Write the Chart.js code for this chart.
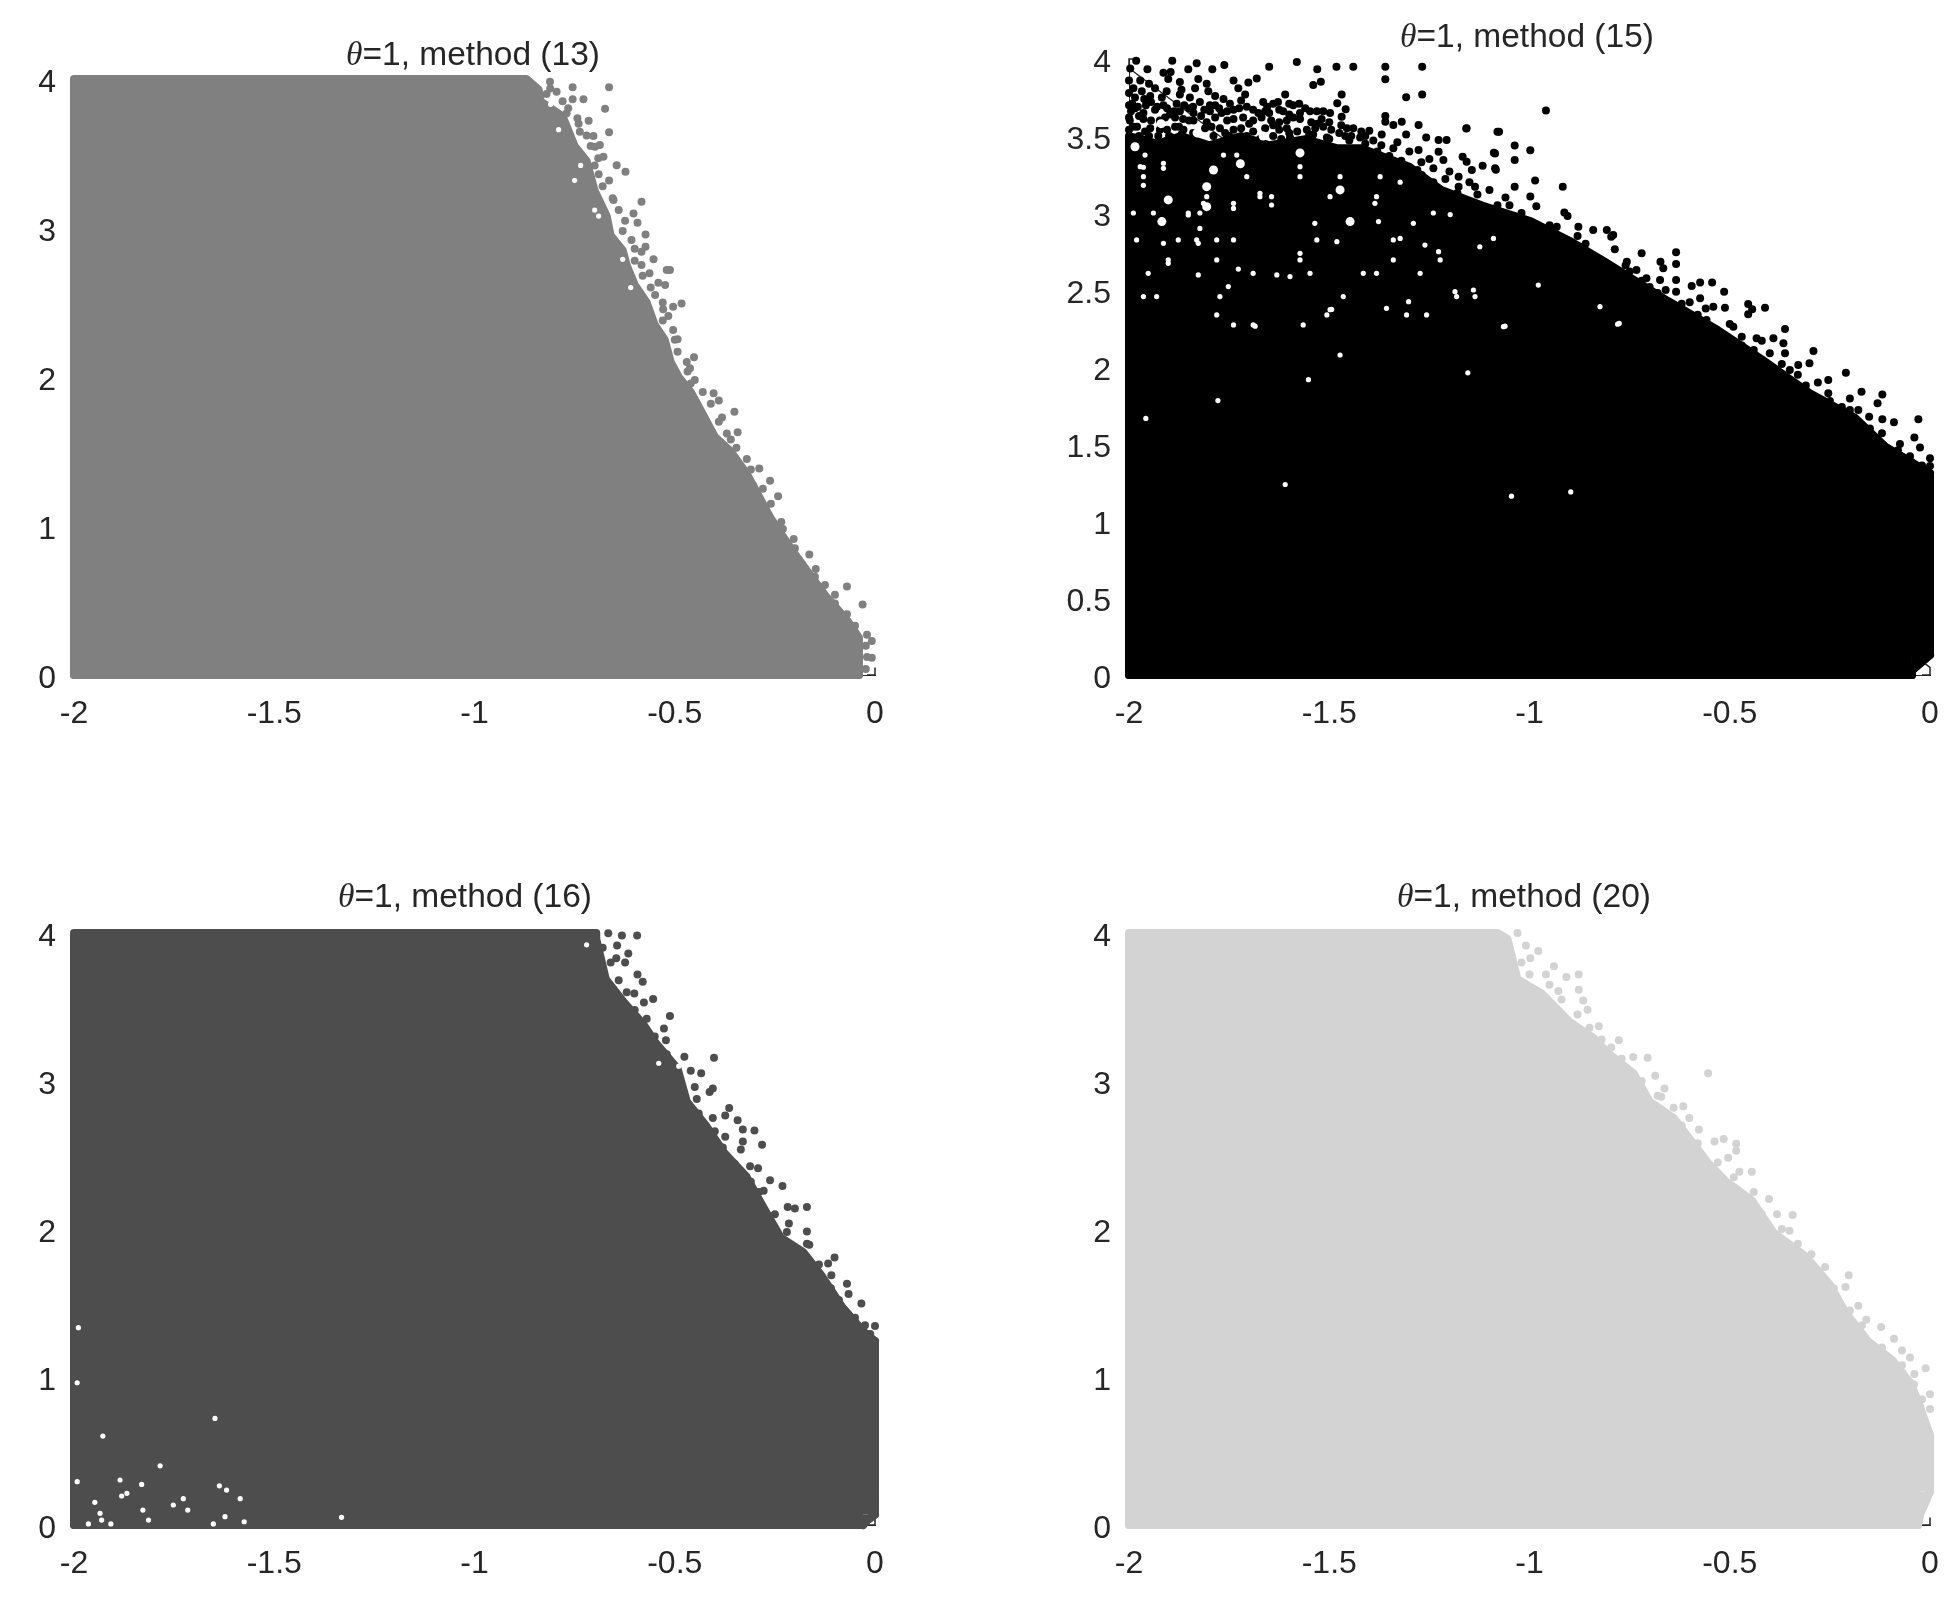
<!DOCTYPE html>
<html><head><meta charset="utf-8">
<script src="https://cdn.jsdelivr.net/npm/chart.js@4"></script>
<style>html,body{margin:0;background:#fff}#w{position:relative;width:1960px;height:1600px;overflow:hidden}canvas{position:absolute}</style>
</head><body><div id="w"></div>
<script>
const xTicks=[-2,-1.5,-1,-0.5,0];
const yTicksWhole=[0,1,2,3,4];
const yTicksHalf=[0,0.5,1,1.5,2,2.5,3,3.5,4];
const titles=["(13)","(15)","(16)","(20)"];

const edge13=[[-2,4],[-0.87,4],[-0.84,3.93],[-0.835,3.85],[-0.78,3.75],[-0.75,3.55],[-0.72,3.45],[-0.70,3.25],[-0.67,3.08],[-0.66,2.95],[-0.63,2.85],[-0.62,2.75],[-0.60,2.62],[-0.57,2.5],[-0.55,2.35],[-0.525,2.25],[-0.51,2.1],[-0.49,2.0],[-0.46,1.9],[-0.43,1.75],[-0.40,1.6],[-0.36,1.5],[-0.32,1.35],[-0.29,1.2],[-0.26,1.05],[-0.21,0.85],[-0.17,0.7],[-0.12,0.52],[-0.07,0.37],[-0.04,0.25],[-0.04,0]];
const tail13=[];
const dots13=[[-0.8115,3.982],[-0.795,3.915],[-0.811,3.937],[-0.755,3.944],[-0.664,3.944],[-0.674,3.801],[-0.664,3.642],[-0.755,3.864],[-0.728,3.864],[-0.766,3.803],[-0.743,3.736],[-0.715,3.72],[-0.737,3.646],[-0.703,3.617],[-0.687,3.557],[-0.699,3.546],[-0.678,3.479],[-0.691,3.468],[-0.645,3.421],[-0.623,3.378],[-0.664,3.318],[-0.583,3.177],[-0.653,3.188],[-0.603,3.098],[-0.624,3.049],[-0.593,3.036],[-0.573,2.957],[-0.608,2.919],[-0.573,2.875],[-0.583,2.841],[-0.553,2.79],[-0.583,2.752],[-0.563,2.696],[-0.52,2.718],[-0.512,2.718],[-0.541,2.633],[-0.524,2.617],[-0.549,2.55],[-0.483,2.494],[-0.504,2.472],[-0.529,2.454],[-0.516,2.409],[-0.504,2.315],[-0.493,2.253],[-0.493,2.17],[-0.452,2.132],[-0.462,2.058],[-0.468,2.037],[-0.46,1.956],[-0.403,1.891],[-0.39,1.842],[-0.351,1.767],[-0.382,1.728],[-0.343,1.63],[-0.346,1.526],[-0.289,1.386],[-0.262,1.304],[-0.242,1.2],[-0.304,1.272],[-0.273,1.125],[-0.234,1.027],[-0.203,0.913],[-0.164,0.809],[-0.203,0.783],[-0.148,0.711],[-0.125,0.604],[-0.07,0.594],[-0.1,0.538],[-0.031,0.473],[-0.07,0.408],[-0.008,0.229],[-0.023,0.196],[-0.008,0.115],[-0.023,0.04],
[-0.82,3.9],[-0.78,3.85],[-0.77,3.77],[-0.74,3.7],[-0.72,3.62],[-0.71,3.55],[-0.70,3.42],[-0.69,3.36],[-0.68,3.28],[-0.655,3.2],[-0.64,3.12],[-0.63,2.98],[-0.60,2.86],[-0.60,2.78],[-0.58,2.68],[-0.56,2.6],[-0.53,2.5],[-0.53,2.38],[-0.50,2.25],[-0.47,2.1],[-0.45,1.98],[-0.43,1.9],[-0.41,1.82],[-0.39,1.7],[-0.37,1.62],[-0.36,1.58],[-0.32,1.45],[-0.31,1.38],[-0.28,1.25],[-0.26,1.15],[-0.23,0.98],[-0.2,0.85],[-0.15,0.66],[-0.10,0.48],[-0.05,0.33],[-0.02,0.27],[-0.02,0.12]];
const specks13=[[-0.81,3.83],[-0.79,3.66],[-0.735,3.42],[-0.75,3.32],[-0.70,3.12],[-0.69,3.08],[-0.63,2.79],[-0.61,2.6]];

const edge15=[[-2,3.5],[-1.93,3.45],[-1.87,3.5],[-1.8,3.44],[-1.72,3.5],[-1.65,3.44],[-1.56,3.48],[-1.48,3.42],[-1.42,3.42],[-1.3,3.3],[-1.22,3.15],[-1.12,3.05],[-1.0,2.95],[-0.9,2.82],[-0.81,2.68],[-0.655,2.43],[-0.53,2.24],[-0.42,2.05],[-0.3,1.83],[-0.187,1.67],[-0.11,1.48],[-0.045,1.38]];
const tail15=[[0,1.31],[0,0.13],[-0.045,0.03],[-0.045,0]];
const dots15=[[-1.982,3.989],[-1.997,3.939],[-1.954,3.933],[-1.914,3.911],[-1.896,3.916],[-1.892,3.989],[-1.852,3.933],[-1.831,3.972],[-1.792,3.933],[-1.762,3.961],[-1.65,3.95],[-1.581,3.98],[-1.53,3.933],[-1.482,3.95],[-1.44,3.95],[-1.36,3.95],[-1.36,3.868],[-1.268,3.95],[-1.268,3.77],[-1.308,3.751],[-1.54,3.831],[-1.521,3.853],[-1.681,3.874],[-1.702,3.848],[-1.469,3.77],[-1.48,3.712],[-1.459,3.673],[-1.469,3.625],[-1.36,3.63],[-1.36,3.593],[-1.34,3.571],[-1.319,3.593],[-1.157,3.55],[-1.08,3.528],[-1.4,3.534],[-1.369,3.509],[-1.308,3.509],[-1.277,3.571],[-1.258,3.491],[-1.227,3.474],[-1.207,3.474],[-1.277,3.409],[-1.227,3.398],[-1.086,3.387],[-1.167,3.366],[-1.117,3.307],[-1.157,3.333],[-1.086,3.29],[-1.144,3.279],[-1.24,3.29],[-1.215,3.344],[-1.136,3.171],[-1.177,3.236],[-1.177,3.171],[-1.269,3.247],
[-2,3.86],[-2,3.78],[-2,3.7],[-2,3.62],[-2,3.54],
[-1.972,3.86],[-1.95,3.84],[-1.902,3.87],[-1.873,3.85],[-1.827,3.87],[-1.806,3.84],[-1.739,3.86],
[-1.989,3.81],[-1.968,3.79],[-1.935,3.81],[-1.906,3.79],[-1.869,3.8],[-1.835,3.81],[-1.802,3.79],[-1.727,3.81],[-1.71,3.77],
[-1.985,3.75],[-1.962,3.74],[-1.947,3.76],[-1.918,3.75],[-1.873,3.77],[-1.848,3.75],[-1.785,3.76],[-1.764,3.74],[-1.72,3.73],[-1.61,3.77],[-1.6,3.71],
[-1.992,3.71],[-1.978,3.69],[-1.945,3.72],[-1.914,3.7],[-1.881,3.71],[-1.823,3.72],[-1.798,3.7],[-1.748,3.71],[-1.706,3.69],[-1.665,3.72],[-1.64,3.71],[-1.655,3.69],[-1.628,3.72],[-1.59,3.7],[-1.575,3.71],
[-1.995,3.66],[-1.964,3.65],[-1.935,3.67],[-1.898,3.64],[-1.873,3.66],[-1.85,3.68],[-1.839,3.65],[-1.798,3.66],[-1.769,3.65],[-1.739,3.67],[-1.677,3.65],[-1.615,3.66],[-1.66,3.66],[-1.573,3.65],[-1.548,3.66],[-1.531,3.66],[-1.498,3.65],
[-1.998,3.6],[-1.964,3.61],[-1.923,3.6],[-1.885,3.62],[-1.839,3.6],[-1.82,3.63],[-1.806,3.59],[-1.739,3.61],[-1.715,3.62],[-1.69,3.6],[-1.669,3.62],[-1.606,3.6],[-1.573,3.61],[-1.545,3.59],[-1.519,3.61],[-1.5,3.59],
[-1.985,3.68],[-1.958,3.7],[-1.93,3.69],[-1.905,3.68],[-1.888,3.66],[-1.862,3.7],[-1.84,3.69],[-1.812,3.67],[-1.785,3.7],[-1.775,3.68],[-1.755,3.66],[-1.725,3.68],[-1.69,3.67],[-1.65,3.65],[-1.625,3.67],[-1.6,3.64],[-1.56,3.68],[-1.515,3.66],[-1.975,3.63],[-1.945,3.6],[-1.91,3.62],[-1.865,3.61],[-1.85,3.6],[-1.785,3.62],[-1.755,3.6],[-1.7,3.58],[-1.645,3.6],[-1.625,3.59],[-1.59,3.62],[-1.53,3.58],[-1.47,3.57],[-1.98,3.56],[-1.96,3.53],[-1.905,3.54],[-1.875,3.56],[-1.81,3.55],[-1.76,3.52],[-1.72,3.55],[-1.69,3.53],[-1.625,3.54],[-1.58,3.53],[-1.535,3.55],[-1.495,3.54],[-1.475,3.52],[-1.445,3.5],[-1.41,3.5],
[-1.989,3.56],[-1.947,3.55],[-1.923,3.54],[-1.885,3.56],[-1.864,3.54],[-1.794,3.56],[-1.773,3.55],[-1.739,3.54],[-1.66,3.55],[-1.64,3.57],[-1.606,3.55],[-1.556,3.54],[-1.515,3.56],[-1.456,3.55],[-1.44,3.55],[-1.42,3.53],
[-1.975,3.5],[-1.968,3.48],[-1.927,3.5],[-1.893,3.49],[-1.869,3.51],[-1.789,3.5],[-1.756,3.49],[-1.706,3.5],[-1.673,3.48],[-1.64,3.5],[-1.598,3.49],[-1.54,3.51],[-1.506,3.49],[-1.46,3.5],[-1.423,3.49],[-1.39,3.47],
[-1.33,3.46],[-1.3,3.4],[-1.25,3.35],[-1.2,3.27],[-1.15,3.2],[-1.1,3.15],[-1.05,3.05],
[-1.38,3.4],[-1.35,3.37],[-1.32,3.34],[-1.28,3.28],[-1.24,3.2],[-1.18,3.13],[-1.08,3.05],[-1.02,3.0],[-1.45,3.47],[-1.41,3.45],[-1.37,3.44],[-1.34,3.42],[-1.6,3.52],[-1.55,3.51],[-1.75,3.5],[-1.84,3.52],[-1.95,3.5],[-1.9,3.5],[-1.5,3.48],[-1.62,3.48],[-1.27,3.33],[-1.21,3.22],[-1.13,3.12],[-1.06,3.1],
[-0.959,3.666],[-1.158,3.549],[-1.076,3.527],[-1.037,3.438],[-0.998,3.407],[-1.089,3.391],[-1.037,3.344],[-1.084,3.281],[-0.986,3.211],[-0.917,3.17],[-1.037,3.17],[-0.998,3.107],[-0.983,3.044],[-0.913,3.003],[-0.905,2.981],[-0.796,2.845],
[-0.932,2.911],[-0.878,2.911],[-0.841,2.89],[-0.807,2.89],[-0.791,2.857],[-0.965,2.9],
[-0.634,2.745],[-0.634,2.669],[-0.634,2.565],[-0.634,2.489],[-0.72,2.738],[-0.673,2.684],[-0.666,2.641],[-0.787,2.764],[-0.757,2.684],[-0.733,2.63],[-0.708,2.576],[-0.674,2.565],[-0.574,2.548],[-0.544,2.548],[-0.595,2.526],[-0.514,2.489],[-0.454,2.409],[-0.412,2.385],[-0.454,2.342],[-0.444,2.375],[-0.512,2.385],[-0.362,2.247],[-0.433,2.186],[-0.391,2.186],[-0.366,2.154],[-0.362,2.089],[-0.291,2.104],[-0.301,2.024],[-0.329,2.013],[-0.21,1.963],[-0.254,1.916],[-0.254,1.829],[-0.171,1.84],[-0.2,1.796],[-0.119,1.822],[-0.131,1.764],[-0.179,1.721],[-0.152,1.677],[-0.119,1.66],[-0.09,1.641],[-0.029,1.66],[-0.039,1.543],[-0.025,1.478],[-0.075,1.5],[0,1.407],[0,1.357],[-0.491,2.262],[-0.533,2.208],[-0.47,2.197],[-0.574,2.446],[-0.541,2.392],[-0.558,2.305],
[-0.95,2.92],[-0.86,2.8],[-0.76,2.66],[-0.7,2.52],[-0.66,2.5],[-0.6,2.42],[-0.56,2.38],[-0.5,2.28],[-0.42,2.17],[-0.4,2.09],[-0.37,2.02],[-0.33,1.95],[-0.28,1.9],[-0.25,1.78],[-0.2,1.72],[-0.15,1.6],[-0.12,1.57],[-0.08,1.46],[-0.05,1.42],[-0.02,1.36],[-0.88,2.85],
[-0.75,2.62],[-0.72,2.56],[-0.68,2.48],[-0.62,2.41],[-0.58,2.34],[-0.47,2.14],[-0.44,2.11],[-0.35,1.98],[-0.31,1.88],[-0.22,1.74]];
const specks15=[[-1.964,3.297],[-1.964,3.18],[-1.914,3.323],[-1.852,2.987],[-1.823,2.9],[-1.827,2.598],[-1.727,2.636],[-1.902,2.673],[-1.69,2.273],[-1.781,2.338],[-1.773,2.457],[-1.752,2.522],[-1.827,2.803],[-1.914,2.803],[-1.531,2.825],[-1.481,2.814],[-1.573,2.738],[-1.631,2.598],[-1.598,2.587],[-1.494,2.374],[-1.473,2.078],[-1.302,2.424],[-1.186,2.489],[-1.14,2.5],[-1.357,2.381],[-1.261,2.792],[-1.227,2.749],[-1.323,2.835],[-1.29,2.933],[-1.377,2.944],[-1.386,3.063],[-1.644,3.052],[-1.739,3.03],[-1.673,3.128],[-1.124,2.781],[-1.09,2.835],[-1.24,3.0],[-1.198,2.99],[-1.536,2.933],[-1.685,2.265],[-1.498,2.372],[-0.897,1.189],[-1.045,1.161],[-1.61,1.237],[-1.552,1.918],[-1.778,1.782],[-1.958,1.666],[-1.154,1.962],[-0.78,2.278],[-1.061,2.265],[-0.776,2.283],[-0.978,2.532],[-1.065,2.262],[-0.824,2.392],
[-1.96,3.376],[-1.764,3.376],[-1.731,3.376],[-1.972,3.301],[-1.914,3.29],[-1.573,3.301],[-1.964,3.236],[-1.706,3.236],[-1.573,3.236],[-1.473,3.236],[-1.373,3.236],[-1.323,3.2],[-1.806,3.106],[-1.673,3.106],[-1.644,3.106],[-1.498,3.106],[-1.382,3.106],[-1.739,3.063],[-1.814,3.063],[-1.989,3.0],[-1.939,3.0],[-1.852,3.0],[-1.823,3.0],[-1.981,2.825],[-1.877,2.825],[-1.831,2.825],[-1.781,2.825],[-1.739,2.825],[-1.34,2.825],[-1.902,2.695],[-1.781,2.695],[-1.573,2.695],[-1.34,2.695],[-1.223,2.695],[-1.952,2.608],[-1.69,2.608],[-1.548,2.608],[-1.415,2.608],[-1.382,2.608],[-1.273,2.608],[-1.964,2.457],[-1.931,2.457],[-1.465,2.457],[-1.182,2.457],[-1.136,2.457],[-1.506,2.338],[-1.307,2.338],[-1.257,2.338],[-1.739,2.273],[-1.565,2.273]];
const holes15=[[-1.473,3.15],[-1.902,3.085],[-1.448,2.944],[-1.789,3.279],[-1.918,2.944],[-1.806,3.171],[-1.83,3.52],[-1.92,3.58],[-1.665,3.5],[-1.573,3.39],[-1.722,3.32],[-1.985,3.43],[-1.806,3.041]];

const edge16=[[-2,4],[-0.696,4],[-0.696,3.96],[-0.672,3.687],[-0.626,3.529],[-0.579,3.386],[-0.548,3.259],[-0.493,3.084],[-0.47,2.862],[-0.423,2.703],[-0.376,2.513],[-0.321,2.354],[-0.282,2.163],[-0.235,1.941],[-0.18,1.846],[-0.134,1.687],[-0.08,1.465],[-0.03,1.31]];
const tail16=[[0,1.243],[0,0.07],[-0.02,0.03],[-0.03,0]];
const dots16=[[-0.666,3.999],[-0.632,3.983],[-0.594,3.983],[-0.71,4],[-0.644,3.916],[-0.616,3.862],[-0.646,3.83],[-0.624,3.8],[-0.593,3.72],[-0.58,3.67],[-0.601,3.592],[-0.554,3.554],[-0.577,3.53],[-0.512,3.44],[-0.527,3.354],[-0.522,3.275],[-0.476,3.164],[-0.402,3.157],[-0.434,3.052],[-0.46,3.07],[-0.405,2.95],[-0.413,2.925],[-0.445,2.878],[-0.364,2.818],[-0.405,2.75],[-0.374,2.767],[-0.343,2.735],[-0.33,2.672],[-0.301,2.665],[-0.374,2.624],[-0.33,2.592],[-0.282,2.57],[-0.335,2.538],[-0.312,2.424],[-0.292,2.411],[-0.262,2.329],[-0.231,2.291],[-0.278,2.259],[-0.218,2.148],[-0.2,2.138],[-0.17,2.148],[-0.215,2.037],[-0.17,1.983],[-0.164,1.894],[-0.101,1.808],[-0.117,1.767],[-0.109,1.687],[-0.07,1.63],[-0.066,1.56],[-0.034,1.497],[0,1.344],[-0.012,1.29],[0,0.195],[0,0.106],
[-0.68,3.9],[-0.66,3.8],[-0.64,3.68],[-0.62,3.6],[-0.60,3.48],[-0.57,3.42],[-0.55,3.3],[-0.52,3.18],[-0.49,3.02],[-0.45,2.96],[-0.44,2.78],[-0.40,2.66],[-0.38,2.55],[-0.35,2.44],[-0.31,2.32],[-0.29,2.25],[-0.25,2.1],[-0.22,1.98],[-0.17,1.9],[-0.14,1.76],[-0.11,1.6],[-0.09,1.52],[-0.05,1.4],[-0.025,1.35]];
const specks16=[[-1.964,0.007],[-1.652,0.007],[-1.908,0.007],[-1.948,0.153],[-1.881,0.196],[-1.868,0.214],[-1.885,0.304],[-1.989,1.333],[-1.992,0.961],[-1.648,0.72],[-1.785,0.4],[-1.637,0.265],[-1.752,0.135],[-1.814,0.033],[-1.931,0.033],[-1.623,0.056],[-1.575,0.022],[-1.716,0.101],[-1.828,0.101],[-1.935,0.079],[-1.585,0.178],[-1.831,0.274],[-1.928,0.601],[-1.992,0.293],[-1.332,0.052],[-1.727,0.178],[-1.619,0.236],[-0.72,3.92],[-0.62,3.7],[-0.54,3.12],[-0.49,3.1]];

const edge20=[[-2,4],[-1.08,4],[-1.055,3.96],[-1.03,3.687],[-0.97,3.592],[-0.90,3.4],[-0.84,3.29],[-0.80,3.179],[-0.74,3.052],[-0.70,2.862],[-0.64,2.75],[-0.60,2.608],[-0.555,2.449],[-0.51,2.322],[-0.445,2.195],[-0.39,1.973],[-0.31,1.814],[-0.25,1.624],[-0.21,1.433],[-0.155,1.243],[-0.095,1.116],[-0.049,0.96],[-0.025,0.8]];
const tail20=[[0,0.608],[0,0.227],[-0.025,0.07],[-0.03,0]];
const dots20=[[-1.03,4],[-1.009,3.916],[-0.978,3.878],[-0.998,3.83],[-0.939,3.776],[-0.877,3.719],[-0.908,3.703],[-0.959,3.719],[-0.877,3.617],[-0.866,3.544],[-0.928,3.608],[-0.855,3.481],[-0.827,3.37],[-0.777,3.275],[-0.796,3.227],[-0.705,3.157],[-0.741,3.163],[-0.554,3.052],[-0.686,3.036],[-0.663,2.95],[-0.671,2.894],[-0.616,2.83],[-0.601,2.75],[-0.577,2.672],[-0.515,2.608],[-0.484,2.576],[-0.538,2.592],[-0.484,2.529],[-0.504,2.481],[-0.445,2.386],[-0.476,2.386],[-0.402,2.202],[-0.343,2.094],[-0.382,2.1],[-0.351,1.989],[-0.296,1.83],[-0.262,1.744],[-0.203,1.687],[-0.211,1.608],[-0.179,1.481],[-0.122,1.338],[-0.159,1.386],[-0.09,1.259],[-0.07,1.179],[-0.05,1.132],[-0.011,1.059],[-0.039,1.021],[0,0.884],[0,0.783],
[-1.05,3.9],[-1.02,3.8],[-1.0,3.72],[-0.95,3.65],[-0.92,3.55],[-0.88,3.45],[-0.85,3.36],[-0.82,3.28],[-0.77,3.15],[-0.72,3.0],[-0.68,2.9],[-0.64,2.82],[-0.62,2.7],[-0.58,2.58],[-0.53,2.45],[-0.49,2.35],[-0.44,2.25],[-0.42,2.1],[-0.37,2.0],[-0.33,1.9],[-0.28,1.72],[-0.24,1.6],[-0.2,1.45],[-0.17,1.35],[-0.12,1.2],[-0.07,1.08],[-0.04,0.95],[-0.02,0.85]];
const specks20=[];
const noHoles=[];

const corner=[[-0.02,0],[0,0],[0,0.05]];
const corner15=[[-2,3.94],[-2,4],[-1.98,4]];

const FONT='"Liberation Sans", Arial, sans-serif';
const INK='#262626';
const toXY=a=>a.map(p=>({x:p[0],y:p[1]}));

const richTitle={id:'richTitle',afterDraw(c,_,o){
  const g=c.ctx;g.save();g.fillStyle=INK;g.textBaseline='middle';g.textAlign='left';
  const th='\u03b8',rest='=1, method '+o.tag;
  g.font='italic 33.5px "Liberation Serif", serif';const w1=g.measureText(th).width;
  g.font='33.5px '+FONT;const w2=g.measureText(rest).width;
  const x=o.cx-(w1+w2)/2;
  g.font='italic 33.5px "Liberation Serif", serif';g.fillText(th,x,o.cy);
  g.font='33.5px '+FONT;g.fillText(rest,x+w1,o.cy);g.restore();
}};

function panel(p){
  const cv=document.createElement('canvas');
  cv.width=980;cv.height=800;cv.style.left=p.left+'px';cv.style.top=p.top+'px';
  document.getElementById('w').appendChild(cv);
  const hasTail=p.tail.length>0;
  const end=hasTail?p.tail[p.tail.length-1][0]:p.edge[p.edge.length-1][0];
  const base=[[-2,0],[end,0]];
  const solid=[[-2,0]].concat(p.edge);
  const common={clip:false,pointRadius:0,showLine:true,borderWidth:8,borderColor:p.color,borderCapStyle:'round',borderJoinStyle:'round',tension:0};
  const ds=[
    {label:'axis',data:toXY(p.marks),showLine:true,clip:false,pointRadius:0,borderColor:INK,borderWidth:1.5,order:10},
    {label:'body',data:toXY(solid),fill:'origin',backgroundColor:p.color,order:9,...common},
    {label:'base',data:toXY(base),order:5,...common},
    {label:'points',data:toXY(p.dots),clip:false,pointRadius:4,pointBorderWidth:0,pointBackgroundColor:p.color,order:3},
    {label:'gaps',data:toXY(p.specks),clip:false,pointRadius:2.6,pointBorderWidth:0,pointBackgroundColor:'#fff',order:2},
    {label:'holes',data:toXY(p.holes),clip:false,pointRadius:4.5,pointBorderWidth:0,pointBackgroundColor:'#fff',order:1}
  ];
  if(hasTail){
    const n=p.edge.length;
    const topIdx=p.tail.findIndex(q=>q[0]===0);
    const capTop=[p.edge[n-2],p.edge[n-1]].concat(p.tail.slice(0,topIdx+1));
    const bottomOfCap=p.tail[topIdx+1][1];
    const wedge=p.tail.slice(topIdx+1).reverse();
    ds.push({label:'cap',data:toXY(capTop),fill:{value:bottomOfCap},backgroundColor:p.color,order:8,...common});
    ds.push({label:'wedge',data:toXY(wedge),fill:{value:bottomOfCap},backgroundColor:p.color,order:7,...common});
    ds.push({label:'tail',data:toXY(p.tail),order:6,...common});
  }
  new Chart(cv,{type:'scatter',plugins:[richTitle],data:{datasets:ds},options:{responsive:false,animation:false,events:[],
    layout:{padding:{left:0,top:p.ptop,right:980-p.pright,bottom:0}},
    plugins:{legend:{display:false},tooltip:{enabled:false},richTitle:{tag:p.tag,cx:p.cx,cy:p.cy}},
    scales:{
      x:{type:'linear',min:-2,max:0,afterBuildTicks:s=>{s.ticks=xTicks.map(v=>({value:v}))},
        afterFit:s=>{s.height=800-p.pbottom},
        grid:{display:false,drawTicks:false},border:{display:true,color:INK,width:1},
        ticks:{color:INK,font:{family:FONT,size:32},padding:20,maxRotation:0,autoSkip:false,callback:v=>String(v)}},
      y:{type:'linear',min:0,max:4,afterBuildTicks:s=>{s.ticks=p.yt.map(v=>({value:v}))},
        afterFit:s=>{s.width=p.pleft},
        grid:{display:false,drawTicks:false},border:{display:true,color:INK,width:1},
        ticks:{color:INK,font:{family:FONT,size:32},padding:18,labelOffset:4,autoSkip:false,callback:v=>String(v)}}
    }}});
}
panel({left:0,top:0,pleft:74,pright:875,ptop:79,pbottom:675,color:'#808080',edge:edge13,tail:tail13,dots:dots13,specks:specks13,holes:noHoles,marks:corner,yt:yTicksWhole,tag:titles[0],cx:473,cy:56});
panel({left:980,top:0,pleft:149,pright:950,ptop:59,pbottom:675,color:'#000000',edge:edge15,tail:tail15,dots:dots15,specks:specks15,holes:holes15,marks:corner.concat(corner15),yt:yTicksHalf,tag:titles[1],cx:547,cy:38});
panel({left:0,top:800,pleft:74,pright:875,ptop:133,pbottom:725,color:'#4d4d4d',edge:edge16,tail:tail16,dots:dots16,specks:specks16,holes:noHoles,marks:corner,yt:yTicksWhole,tag:titles[2],cx:465,cy:98});
panel({left:980,top:800,pleft:149,pright:950,ptop:133,pbottom:725,color:'#d3d3d3',edge:edge20,tail:tail20,dots:dots20,specks:specks20,holes:noHoles,marks:corner,yt:yTicksWhole,tag:titles[3],cx:544,cy:98});
</script></body></html>
